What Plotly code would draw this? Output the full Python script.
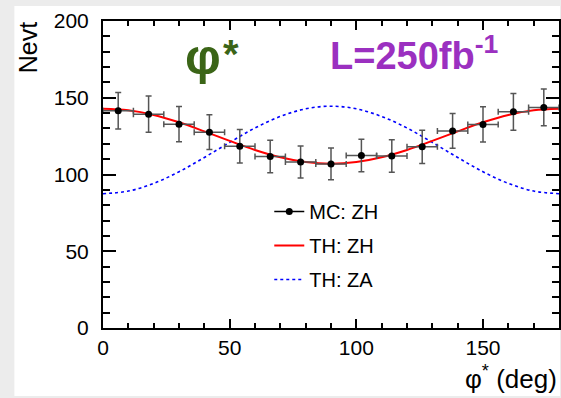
import plotly.graph_objects as go

# ---- data ----
bin_centers = [6, 18, 30, 42, 54, 66, 78, 90, 102, 114, 126, 138, 150, 162, 174]
mc_zh = [141.5, 139.3, 132.8, 127.6, 118.4, 111.7, 108.2, 106.9, 112.4, 112.1, 118.0, 128.4, 132.6, 140.8, 143.7]
mc_err = [11.9, 11.8, 11.5, 11.3, 10.9, 10.6, 10.4, 10.3, 10.6, 10.6, 10.9, 11.3, 11.5, 11.9, 12.0]
bin_halfwidth = [6] * 15

phi_curve = [0, 10, 20, 30, 40, 50, 60, 70, 80, 90, 100, 110, 120, 130, 140, 150, 160, 170, 180]
th_zh = [142.8, 141.8, 138.8, 134.0, 128.1, 121.9, 116.0, 111.2, 108.1, 107.0,
         108.1, 111.2, 116.0, 121.9, 128.1, 134.0, 138.8, 141.8, 142.8]
th_za = [87.5, 89.2, 94.2, 101.8, 111.1, 120.9, 130.3, 137.8, 142.8, 144.5,
         142.8, 137.8, 130.3, 120.9, 111.1, 101.8, 94.2, 89.2, 87.5]

x_ticks = [0, 50, 100, 150]
y_ticks = [0, 50, 100, 150, 200]

FONT = "Liberation Sans, Arial, Helvetica, sans-serif"

fig = go.Figure()

fig.add_trace(go.Scatter(
    x=phi_curve, y=th_za, mode="lines", name="TH: ZA", showlegend=False,
    line=dict(color="#0000ff", width=1.6, dash="3px,3px", shape="spline"),
))
fig.add_trace(go.Scatter(
    x=phi_curve, y=th_zh, mode="lines", name="TH: ZH", showlegend=False,
    line=dict(color="#ff0000", width=2, shape="spline"),
))
fig.add_trace(go.Scatter(
    x=bin_centers, y=mc_zh, mode="markers", name="MC: ZH", showlegend=False,
    marker=dict(color="black", size=7),
    error_y=dict(type="data", array=mc_err, color="#555555", thickness=1.5, width=3),
    error_x=dict(type="data", array=bin_halfwidth, color="#555555", thickness=1.5, width=3),
))

# legend entries
fig.add_trace(go.Scatter(x=[None], y=[None], mode="lines+markers", name="MC: ZH",
                         legendgroup="a",
                         line=dict(color="black", width=1.5), marker=dict(color="black", size=7)))
fig.add_trace(go.Scatter(x=[None], y=[None], mode="lines", name="TH: ZH", legendgroup="b",
                         line=dict(color="#ff0000", width=2)))
fig.add_trace(go.Scatter(x=[None], y=[None], mode="lines", name="TH: ZA", legendgroup="c",
                         line=dict(color="#0000ff", width=1.6, dash="3px,3px")))

L, T, B = 103, 21, 70
H = 398 - T - B
W = 561 - L

def px_x(p):
    return (p - L) / W

def px_y(p):
    return (398 - B - p) / H

GREEN = "#3b6517"

fig.update_layout(
    width=561, height=398,
    margin=dict(l=L, r=0, t=T, b=B),
    paper_bgcolor="#ececec",
    plot_bgcolor="white",
    font=dict(family=FONT, color="black", size=20),
    showlegend=True,
    legend=dict(x=px_x(270), y=px_y(192), xanchor="left", yanchor="top",
                bgcolor="rgba(0,0,0,0)", font=dict(size=20), tracegroupgap=5,
                itemwidth=30),
    shapes=[dict(type="rect", xref="paper", yref="paper",
                 x0=px_x(14), x1=px_x(562), y0=px_y(396), y1=px_y(6),
                 fillcolor="white", line=dict(width=0), layer="below")],
    annotations=[
        dict(text="<b>φ</b>", x=px_x(203), y=px_y(57),
             xref="paper", yref="paper",
             showarrow=False, font=dict(size=50, color=GREEN), xanchor="center", yanchor="middle"),
        dict(text="<b>*</b>", x=px_x(232), y=px_y(54),
             xref="paper", yref="paper",
             showarrow=False, font=dict(size=40, color=GREEN), xanchor="center", yanchor="middle"),
        dict(text="<b>L=250fb<sup>-1</sup></b>", x=px_x(416), y=px_y(53), xref="paper", yref="paper",
             showarrow=False, font=dict(size=38, color="#9b30c0"), xanchor="center", yanchor="middle"),
        dict(text="Nevt", textangle=-90, x=px_x(28), y=px_y(48), xref="paper", yref="paper",
             showarrow=False, font=dict(size=25), xanchor="center", yanchor="middle"),
        dict(text="φ<sup>*</sup> (deg)", x=1.0, y=px_y(377), xref="paper", yref="paper",
             showarrow=False, font=dict(size=26), xanchor="right", yanchor="middle"),
    ],
)

fig.update_xaxes(
    range=[0, 180], tickvals=x_ticks, ticktext=[str(v) for v in x_ticks],
    ticks="inside", ticklen=9, tickwidth=1.5, tickcolor="black",
    showline=True, linecolor="black", linewidth=2, mirror="ticks",
    showgrid=False, zeroline=False, tickfont=dict(size=21),
    minor=dict(ticks="inside", dtick=10, tick0=0, ticklen=5, tickwidth=1.5, tickcolor="black", showgrid=False),
)
fig.update_yaxes(
    range=[0, 200], tickvals=y_ticks, ticktext=[str(v) for v in y_ticks],
    ticks="inside", ticklen=13, tickwidth=1.5, tickcolor="black",
    showline=True, linecolor="black", linewidth=2, mirror="ticks",
    showgrid=False, zeroline=False, tickfont=dict(size=21),
    ticklabelstandoff=8,
    minor=dict(ticks="inside", dtick=10, tick0=0, ticklen=7, tickwidth=1.5, tickcolor="black", showgrid=False),
)

fig.write_html("out.html", config={"displayModeBar": False},
               post_script="document.body.style.margin='0';document.body.style.overflow='hidden';")
